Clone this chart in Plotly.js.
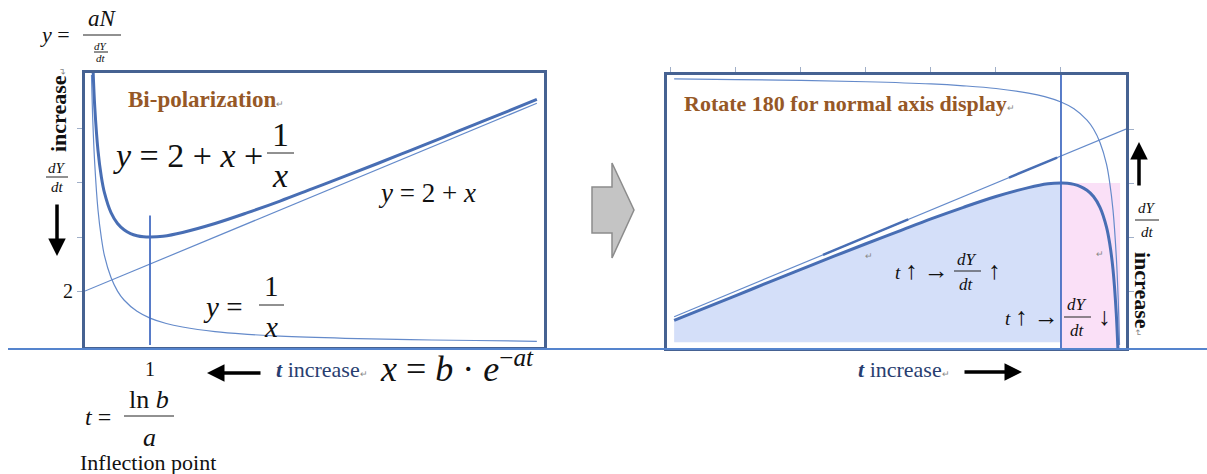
<!DOCTYPE html>
<html>
<head>
<meta charset="utf-8">
<script src="https://cdn.plot.ly/plotly-3.0.1.min.js"></script>
<style>
  body { margin: 0; background: #fff; }
  #plot { width: 1207px; height: 474px; }
</style>
</head>
<body>
<div id="plot"></div>
<script>
// values (x = b*e^-at, y = aN / dY/dt)
var curveX = [0.12, 0.15, 0.2, 0.25, 0.3, 0.4, 0.5, 0.6, 0.7, 0.8, 0.9, 1, 1.2, 1.5, 2, 2.5, 3, 3.5, 4, 4.5, 5, 5.5, 6, 6.5, 6.95];
var curveY = [10.45, 8.82, 7.2, 6.25, 5.63, 4.9, 4.5, 4.27, 4.13, 4.05, 4.01, 4.0, 4.03, 4.17, 4.5, 4.9, 5.33, 5.79, 6.25, 6.72, 7.2, 7.68, 8.17, 8.65, 9.09];
var recipX = [0.1, 0.12, 0.15, 0.2, 0.25, 0.3, 0.4, 0.5, 0.6, 0.8, 1, 1.25, 1.5, 2, 2.5, 3, 4, 5, 6, 6.95];
var recipY = [10, 8.3, 6.7, 5, 4, 3.3, 2.5, 2, 1.67, 1.25, 1, 0.8, 0.67, 0.5, 0.4, 0.33, 0.25, 0.2, 0.17, 0.14];
var lineX = [0, 6.95];
var lineY = [2, 8.95];
var inflectX = [1, 1];
var inflectLeftY = [0, 4.8];
var inflectRightY = [0, 10.11];
var boldX = [[1.06, 1.8], [3.35, 4.66]];
var boldY = [[3.06, 3.8], [5.35, 6.66]];
var pinkX = [0.09, 1, 1, 0.09];
var pinkY = [4, 4, 10.11, 10.11];
var fillBase = 9.9;
var yTicks = [2, 4, 6, 8];
var yTickText = ['2', '', '', ''];
var xTicks = [1, 2, 3, 4, 5, 6, 7];

var W = 1207, H = 474;
var SERIF = 'Liberation Serif';
var BROWN = 'rgb(150,88,38)';
var DARKBLUE = 'rgb(40,62,112)';
var THICK = 'rgb(72,110,180)';
var THIN = 'rgb(100,138,202)';
var BOX = 'rgb(70,98,146)';

function px(x) { return x / W; }
function py(y) { return 1 - y / H; }

function label(x, y, text, size, extra) {
  var a = {
    xref: 'paper', yref: 'paper', x: px(x), y: py(y), text: text, showarrow: false,
    font: {family: SERIF, size: size, color: '#111'}, xanchor: 'center', yanchor: 'middle'
  };
  extra = extra || {};
  if (extra.color) { a.font.color = extra.color; delete extra.color; }
  return Object.assign(a, extra);
}
function bar(x0, x1, y) {
  return {type: 'line', xref: 'paper', yref: 'paper', x0: px(x0), x1: px(x1), y0: py(y), y1: py(y),
    line: {color: '#222', width: 1}};
}
function arrow(x0, y0, x1, y1) {
  return {xref: 'paper', yref: 'paper', x: px(x1), y: py(y1), ax: x0 - x1, ay: y0 - y1,
    axref: 'pixel', ayref: 'pixel', text: '', showarrow: true, arrowhead: 2, arrowsize: 1,
    arrowwidth: 3.5, arrowcolor: '#000', standoff: 0};
}
var pm = '<span style="font-size:9px;color:#888">↵</span>';
function big(s) { return '<span style="font-size:25px">' + s + '</span>'; }

// blue area under the rotated curve, right of the inflection point
var fillX = [], fillY = [];
curveX.forEach(function (x, i) { if (x >= 1) { fillX.push(x); fillY.push(curveY[i]); } });
fillX.push(fillX[fillX.length - 1], 1);
fillY.push(fillBase, fillBase);

var data = [
  // left panel
  {x: recipX, y: recipY, mode: 'lines', line: {color: THIN, width: 1.2, shape: 'spline'}, xaxis: 'x', yaxis: 'y'},
  {x: lineX, y: lineY, mode: 'lines', line: {color: THIN, width: 1.2}, xaxis: 'x', yaxis: 'y'},
  {x: curveX, y: curveY, mode: 'lines', line: {color: THICK, width: 3, shape: 'spline'}, xaxis: 'x', yaxis: 'y'},
  {x: inflectX, y: inflectLeftY, mode: 'lines', line: {color: 'rgb(70,110,195)', width: 1.8}, xaxis: 'x', yaxis: 'y'},
  // right panel, same curves rotated 180
  {x: pinkX, y: pinkY, fill: 'toself', mode: 'none', fillcolor: 'rgba(250,222,247,0.95)', xaxis: 'x2', yaxis: 'y2'},
  {x: fillX, y: fillY, fill: 'toself', mode: 'none', fillcolor: 'rgba(210,221,249,0.95)', xaxis: 'x2', yaxis: 'y2'},
  {x: recipX, y: recipY, mode: 'lines', line: {color: THIN, width: 1.2, shape: 'spline'}, xaxis: 'x2', yaxis: 'y2'},
  {x: lineX, y: lineY, mode: 'lines', line: {color: THIN, width: 1.2}, xaxis: 'x2', yaxis: 'y2'},
  {x: boldX[0], y: boldY[0], mode: 'lines', line: {color: THICK, width: 2.5}, xaxis: 'x2', yaxis: 'y2'},
  {x: boldX[1], y: boldY[1], mode: 'lines', line: {color: THICK, width: 2.5}, xaxis: 'x2', yaxis: 'y2'},
  {x: curveX, y: curveY, mode: 'lines', line: {color: THICK, width: 3, shape: 'spline'}, xaxis: 'x2', yaxis: 'y2'},
  {x: inflectX, y: inflectRightY, mode: 'lines', line: {color: 'rgb(70,110,195)', width: 1.8}, xaxis: 'x2', yaxis: 'y2'}
];

var axisBase = {showline: true, mirror: true, linecolor: BOX, linewidth: 3, showgrid: false,
  zeroline: false, fixedrange: true, tickcolor: 'rgb(160,175,200)', ticklen: 5};

var layout = {
  width: W, height: H,
  margin: {l: 0, r: 0, t: 0, b: 0},
  paper_bgcolor: '#fff', plot_bgcolor: 'rgba(0,0,0,0)',
  showlegend: false,
  font: {family: SERIF, color: '#111'},
  xaxis: Object.assign({}, axisBase, {domain: [px(85), px(544)], range: [0, 7.06], anchor: 'y',
    tickvals: [1], ticktext: ['1'], ticks: 'outside', ticklen: 2, tickcolor: 'rgba(0,0,0,0)',
    tickfont: {size: 20, family: SERIF, color: '#111'}}),
  yaxis: Object.assign({}, axisBase, {domain: [py(347), py(73)], range: [-0.07, 10.07], anchor: 'x',
    tickvals: yTicks, ticktext: yTickText, ticks: 'outside', tickfont: {size: 20, family: SERIF, color: '#111'}}),
  xaxis2: Object.assign({}, axisBase, {domain: [px(667), px(1126)], range: [7.06, 0], anchor: 'y2',
    side: 'top', tickvals: xTicks, ticks: 'outside', showticklabels: false}),
  yaxis2: Object.assign({}, axisBase, {domain: [py(348), py(75)], range: [10.11, 0], anchor: 'x2',
    side: 'right', tickvals: yTicks, ticks: 'outside', showticklabels: false}),
  shapes: [
    {type: 'line', xref: 'paper', yref: 'paper', x0: px(8), x1: 1, y0: py(349), y1: py(349),
      line: {color: 'rgb(85,132,205)', width: 2}},
    {type: 'path', xref: 'paper', yref: 'paper',
      path: 'M' + px(592) + ',' + py(187) + ' L' + px(612) + ',' + py(187) + ' L' + px(612) + ',' + py(163) +
        ' L' + px(634) + ',' + py(210) + ' L' + px(612) + ',' + py(258) + ' L' + px(612) + ',' + py(233) +
        ' L' + px(592) + ',' + py(233) + ' Z',
      fillcolor: 'rgb(196,196,196)', line: {color: 'rgb(140,140,140)', width: 1.5}},
    bar(83, 121, 35), bar(94, 108, 52),
    bar(46, 68, 177),
    bar(267, 294, 153),
    bar(259, 284, 305),
    bar(124, 174, 416),
    bar(954, 981, 271), bar(1064, 1091, 317),
    bar(1135, 1159, 220)
  ],
  annotations: [
    label(55, 34, '<i>y</i> =', 22),
    label(102, 19, '<i>aN</i>', 23),
    label(101, 46, '<i>dY</i>', 11),
    label(101, 58, '<i>dt</i>', 11),
    label(58, 110, '<b>increase</b>' + pm, 22, {textangle: -90}),
    label(57, 168, '<i>dY</i>', 15),
    label(57, 187, '<i>dt</i>', 15),
    arrow(57, 203, 57, 256),
    label(206, 99, '<b>Bi-polarization</b>' + pm, 23, {color: BROWN}),
    label(188, 155, '<i>y</i> = 2 + <i>x</i> +', 34),
    label(280, 134, '1', 34),
    label(280, 175, '<i>x</i>', 34),
    label(427, 193, '<i>y</i> = 2 + <i>x</i>', 27),
    label(222, 307, '<i>y</i> =', 29),
    label(271, 286, '1', 29),
    label(271, 327, '<i>x</i>', 29),
    arrow(262, 373, 207, 373),
    label(274, 369, '<b><i>t</i></b> increase' + pm, 22, {xanchor: 'left', color: DARKBLUE}),
    label(378, 366, '<i>x</i> = <i>b</i> · <i>e</i><sup>−<i>at</i></sup>', 36, {xanchor: 'left'}),
    label(98, 417, '<i>t</i> =', 24),
    label(149, 399, 'ln <i>b</i>', 26),
    label(149, 437, '<i>a</i>', 26),
    label(148, 462, 'Inflection point', 22),
    label(850, 103, '<b>Rotate 180 for normal axis display</b>' + pm, 22, {color: BROWN}),
    label(922, 270, '<i>t</i> ' + big('↑ →'), 19),
    label(967, 259, '<i>dY</i>', 17),
    label(967, 284, '<i>dt</i>', 17),
    label(994, 270, big('↑'), 19),
    label(1032, 316, '<i>t</i> ' + big('↑ →'), 19),
    label(1077, 304, '<i>dY</i>', 17),
    label(1077, 330, '<i>dt</i>', 17),
    label(1104, 316, big('↓'), 19),
    label(869, 256, '↵', 9, {color: '#888'}),
    label(1100, 254, '↵', 9, {color: '#888'}),
    arrow(1139, 187, 1139, 142),
    label(1147, 208, '<i>dY</i>', 15),
    label(1147, 232, '<i>dt</i>', 15),
    label(1143, 294, '<b>increase</b>' + pm, 22, {textangle: 90}),
    label(904, 369, '<b><i>t</i></b> increase' + pm, 22, {color: DARKBLUE}),
    arrow(963, 372, 1022, 372)
  ]
};

Plotly.newPlot('plot', data, layout, {displayModeBar: false, staticPlot: true});
</script>
</body>
</html>
